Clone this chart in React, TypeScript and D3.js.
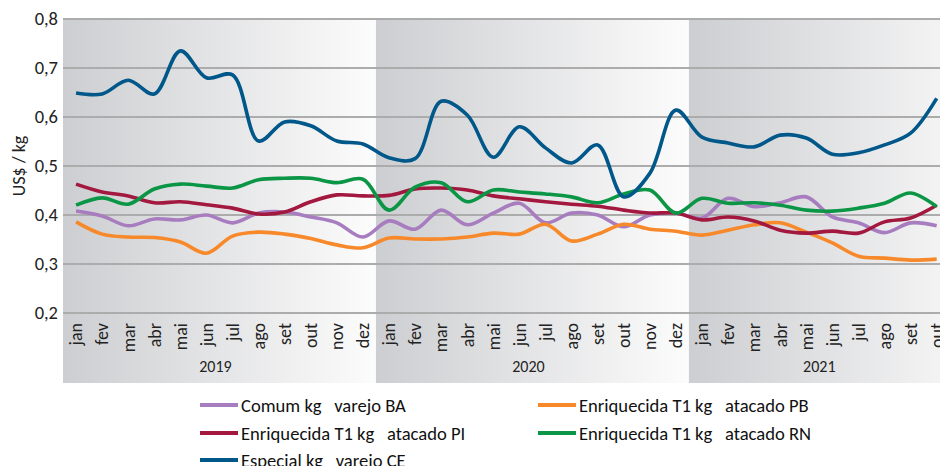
import React from "react";
import * as d3 from "d3";

// months per year shown on the axis (2021 stops at "out")
const years = ["2019", "2020", "2021"];
const monthNames = ["jan", "fev", "mar", "abr", "mai", "jun", "jul", "ago", "set", "out", "nov", "dez"];
const monthsPerYear = [12, 12, 10];
const yTicks = [0.2, 0.3, 0.4, 0.5, 0.6, 0.7, 0.8];

// values, jan/2019 .. out/2021
const comumBA = [0.408, 0.398, 0.378, 0.392, 0.39, 0.4, 0.384, 0.404, 0.406, 0.396, 0.384, 0.355,
  0.388, 0.371, 0.41, 0.38, 0.404, 0.424, 0.384, 0.404, 0.4, 0.376, 0.4, 0.404,
  0.394, 0.434, 0.417, 0.425, 0.437, 0.396, 0.384, 0.364, 0.384, 0.378];
const atacadoPB = [0.386, 0.361, 0.355, 0.354, 0.345, 0.322, 0.357, 0.365, 0.361, 0.352, 0.339, 0.333,
  0.353, 0.351, 0.351, 0.355, 0.363, 0.361, 0.381, 0.347, 0.361, 0.381, 0.371, 0.367,
  0.359, 0.369, 0.38, 0.384, 0.365, 0.343, 0.316, 0.312, 0.308, 0.31];
const atacadoPI = [0.463, 0.447, 0.439, 0.425, 0.427, 0.421, 0.414, 0.402, 0.406, 0.427, 0.441, 0.439,
  0.44, 0.453, 0.455, 0.451, 0.439, 0.433, 0.427, 0.422, 0.418, 0.41, 0.404, 0.404,
  0.39, 0.396, 0.388, 0.369, 0.363, 0.367, 0.363, 0.386, 0.394, 0.42];
const atacadoRN = [0.42, 0.435, 0.422, 0.453, 0.463, 0.459, 0.455, 0.472, 0.475, 0.475, 0.466, 0.473,
  0.41, 0.457, 0.466, 0.427, 0.451, 0.447, 0.443, 0.437, 0.425, 0.443, 0.451, 0.404,
  0.434, 0.424, 0.425, 0.42, 0.41, 0.408, 0.414, 0.424, 0.445, 0.417];
const especialCE = [0.649, 0.647, 0.675, 0.647, 0.735, 0.68, 0.686, 0.551, 0.59, 0.582, 0.551, 0.545,
  0.517, 0.515, 0.632, 0.604, 0.518, 0.58, 0.537, 0.506, 0.543, 0.437, 0.485, 0.614,
  0.559, 0.547, 0.539, 0.563, 0.557, 0.524, 0.527, 0.543, 0.567, 0.638];

const seriesNames = [
  "Comum kg   varejo BA",
  "Enriquecida T1 kg   atacado PB",
  "Enriquecida T1 kg   atacado PI",
  "Enriquecida T1 kg   atacado RN",
  "Especial kg   varejo CE",
];
const seriesColors = ["#a77dc0", "#f7892b", "#a3183f", "#0b9646", "#00578a"];
const seriesValues = [comumBA, atacadoPB, atacadoPI, atacadoRN, especialCE];

const FONT = "Carlito, 'Liberation Sans Narrow', 'Noto Sans', sans-serif";

const App = () => {
  const W = 940;
  const H = 466;
  const left = 63;
  const band = 26.08;
  const top = 19;
  const bottom = 313;
  const bgBottom = 383;

  const keys: string[] = [];
  years.forEach((yr, i) => {
    monthNames.slice(0, monthsPerYear[i]).forEach((m) => keys.push(yr + "-" + m));
  });

  const x = d3.scaleBand<string>().domain(keys).range([left, left + band * keys.length]).padding(0);
  const y = d3.scaleLinear().domain([0.2, 0.8]).range([bottom, top]);
  const cx = (k: string) => (x(k) as number) + x.bandwidth() / 2;

  const line = d3
    .line<number>()
    .x((_, i) => cx(keys[i]))
    .y((d) => y(d))
    .curve(d3.curveCatmullRom.alpha(0.5));

  // each year band is 12 months wide
  let start = 0;
  const yearBands = years.map((yr, i) => {
    const first = keys[start];
    const last = keys[start + monthsPerYear[i] - 1];
    start += monthsPerYear[i];
    return {
      yr,
      x0: x(first) as number,
      x1: (x(first) as number) + band * 12,
      labelX: (cx(first) + cx(last)) / 2 + (i === 2 ? 0 : -4),
    };
  });

  const legendPos = [
    [200, 405],
    [538, 405],
    [200, 433],
    [538, 433],
    [200, 460],
  ];

  return (
    <svg width={W} height={H} style={{ position: "absolute", left: 0, top: 0, background: "#fff" }}>
      <defs>
        <linearGradient id="yearGrad" x1="0" x2="1" y1="0" y2="0">
          <stop offset="0" stopColor="#cdced1" />
          <stop offset="1" stopColor="#fcfcfc" />
        </linearGradient>
      </defs>

      {yearBands.map((b) => (
        <rect key={b.yr} x={b.x0} y={top} width={b.x1 - b.x0} height={bgBottom - top} fill="url(#yearGrad)" />
      ))}

      {yTicks.map((t) => (
        <g key={t}>
          <line x1={left} x2={left + band * 34} y1={y(t)} y2={y(t)} stroke="#acacac" strokeWidth={2} />
          <text x={58} y={y(t)} dy="0.35em" textAnchor="end" fontFamily={FONT} fontSize={18.5} fill="#222">
            {d3.format(".1f")(t).replace(".", ",")}
          </text>
        </g>
      ))}

      <text
        transform={`translate(25,166) rotate(-90)`}
        textAnchor="middle"
        fontFamily={FONT}
        fontSize={18}
        fill="#222"
      >
        US$ / kg
      </text>

      {keys.map((k) => (
        <text
          key={k}
          transform={`translate(${cx(k)},323) rotate(-90)`}
          dy="0.35em"
          textAnchor="end"
          fontFamily={FONT}
          fontSize={18}
          fill="#222"
        >
          {k.split("-")[1]}
        </text>
      ))}

      {yearBands.map((b) => (
        <text key={b.yr} x={b.labelX} y={372} textAnchor="middle" fontFamily={FONT} fontSize={16} fill="#222">
          {b.yr}
        </text>
      ))}

      {seriesValues.map((vals, i) => (
        <path key={seriesNames[i]} d={line(vals) || ""} fill="none" stroke={seriesColors[i]} strokeWidth={3.6} />
      ))}

      {seriesNames.map((name, i) => (
        <g key={name} transform={`translate(${legendPos[i][0]},${legendPos[i][1]})`}>
          <line x1={0} x2={38} y1={0} y2={0} stroke={seriesColors[i]} strokeWidth={4} />
          <text x={41} y={0} dy="0.35em" fontFamily={FONT} fontSize={18.6} fill="#111" style={{ whiteSpace: "pre" }}>
            {name}
          </text>
        </g>
      ))}
    </svg>
  );
};

export default App;
